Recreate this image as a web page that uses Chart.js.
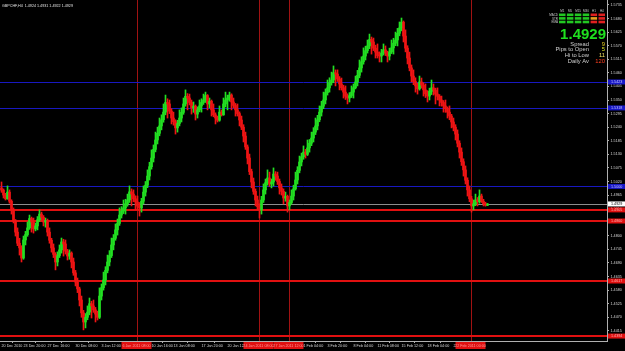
<!DOCTYPE html>
<html><head><meta charset="utf-8">
<script src="https://cdn.jsdelivr.net/npm/chart.js@4.4.0/dist/chart.umd.min.js"></script>
<style>html,body{margin:0;padding:0;background:#000;overflow:hidden}canvas{display:block}</style>
</head><body>
<canvas id="c" width="625" height="351"></canvas>
<script>
const symbolTitle = 'GBPCHF,H4  1.4924 1.4931 1.4922 1.4929';
const firstOpen = 1.4994;
const closes = [
1.4985,1.4965,1.4950,1.4977,1.4940,1.4905,1.4860,1.4815,1.4770,1.4751,
1.4710,1.4783,1.4805,1.4832,1.4870,1.4856,1.4828,1.4840,1.4865,1.4888,
1.4875,1.4856,1.4862,1.4815,1.4782,1.4751,1.4725,1.4694,1.4720,1.4743,
1.4775,1.4767,1.4738,1.4718,1.4730,1.4694,1.4650,1.4613,1.4585,1.4540,
1.4488,1.4451,1.4470,1.4491,1.4525,1.4516,1.4500,1.4483,1.4470,1.4556,
1.4590,1.4621,1.4660,1.4694,1.4720,1.4763,1.4790,1.4824,1.4850,1.4884,
1.4900,1.4913,1.4930,1.4945,1.4978,1.4969,1.4950,1.4937,1.4920,1.4913,
1.4940,1.4977,1.5005,1.5042,1.5080,1.5115,1.5150,1.5188,1.5215,1.5245,
1.5270,1.5301,1.5340,1.5334,1.5305,1.5277,1.5262,1.5237,1.5255,1.5277,
1.5300,1.5334,1.5365,1.5358,1.5340,1.5318,1.5325,1.5293,1.5310,1.5326,
1.5340,1.5350,1.5368,1.5334,1.5345,1.5310,1.5290,1.5277,1.5268,1.5301,
1.5290,1.5334,1.5350,1.5358,1.5370,1.5342,1.5328,1.5310,1.5295,1.5269,
1.5240,1.5204,1.5160,1.5115,1.5060,1.5018,1.4980,1.4945,1.4918,1.4905,
1.4945,1.4986,1.5015,1.5034,1.5010,1.5018,1.5050,1.5042,1.5020,1.4994,
1.4980,1.4953,1.4960,1.4921,1.4935,1.4961,1.4990,1.5026,1.5065,1.5099,
1.5120,1.5139,1.5130,1.5156,1.5175,1.5196,1.5220,1.5245,1.5270,1.5301,
1.5325,1.5350,1.5380,1.5399,1.5420,1.5431,1.5460,1.5455,1.5435,1.5415,
1.5400,1.5382,1.5365,1.5358,1.5368,1.5382,1.5400,1.5423,1.5450,1.5480,
1.5505,1.5528,1.5550,1.5569,1.5595,1.5585,1.5560,1.5544,1.5530,1.5528,
1.5540,1.5553,1.5540,1.5528,1.5545,1.5561,1.5580,1.5593,1.5620,1.5642,
1.5665,1.5609,1.5560,1.5520,1.5480,1.5447,1.5425,1.5407,1.5395,1.5423,
1.5410,1.5391,1.5375,1.5366,1.5385,1.5399,1.5390,1.5374,1.5365,1.5350,
1.5340,1.5326,1.5315,1.5301,1.5285,1.5261,1.5240,1.5212,1.5175,1.5139,
1.5100,1.5067,1.5025,1.4986,1.4950,1.4921,1.4930,1.4945,1.4938,1.4961,
1.4940,1.4930,1.4924,1.4929];
const highs = [
1.5018,1.4990,1.4972,1.5002,1.4986,1.4946,1.4913,1.4866,1.4832,1.4790,
1.4760,1.4799,1.4818,1.4856,1.4884,1.4876,1.4872,1.4852,1.4878,1.4905,
1.4896,1.4882,1.4872,1.4868,1.4832,1.4790,1.4767,1.4732,1.4735,1.4763,
1.4791,1.4786,1.4783,1.4745,1.4743,1.4735,1.4710,1.4660,1.4629,1.4592,
1.4556,1.4498,1.4485,1.4516,1.4548,1.4535,1.4540,1.4510,1.4495,1.4589,
1.4605,1.4653,1.4675,1.4722,1.4740,1.4791,1.4805,1.4848,1.4868,1.4913,
1.4918,1.4945,1.4948,1.4969,1.5002,1.4990,1.4986,1.4962,1.4961,1.4935,
1.4952,1.5002,1.5020,1.5067,1.5098,1.5148,1.5168,1.5220,1.5240,1.5277,
1.5290,1.5334,1.5370,1.5355,1.5350,1.5315,1.5301,1.5270,1.5268,1.5310,
1.5318,1.5358,1.5391,1.5376,1.5374,1.5350,1.5342,1.5330,1.5322,1.5350,
1.5355,1.5374,1.5382,1.5372,1.5358,1.5350,1.5334,1.5298,1.5285,1.5326,
1.5310,1.5358,1.5382,1.5370,1.5382,1.5375,1.5358,1.5336,1.5334,1.5302,
1.5285,1.5250,1.5220,1.5168,1.5131,1.5070,1.5034,1.4990,1.4961,1.4930,
1.4960,1.5010,1.5030,1.5067,1.5058,1.5030,1.5075,1.5060,1.5058,1.5030,
1.5010,1.4990,1.4977,1.4965,1.4945,1.4986,1.5005,1.5058,1.5080,1.5123,
1.5135,1.5164,1.5150,1.5188,1.5190,1.5220,1.5238,1.5277,1.5288,1.5326,
1.5345,1.5382,1.5395,1.5431,1.5440,1.5463,1.5488,1.5472,1.5472,1.5445,
1.5439,1.5410,1.5407,1.5375,1.5380,1.5407,1.5415,1.5447,1.5470,1.5512,
1.5525,1.5561,1.5568,1.5593,1.5617,1.5605,1.5601,1.5572,1.5577,1.5545,
1.5555,1.5577,1.5569,1.5548,1.5560,1.5593,1.5600,1.5625,1.5640,1.5666,
1.5682,1.5670,1.5634,1.5570,1.5544,1.5492,1.5472,1.5440,1.5418,1.5447,
1.5439,1.5420,1.5415,1.5388,1.5398,1.5431,1.5415,1.5398,1.5399,1.5372,
1.5366,1.5348,1.5350,1.5322,1.5326,1.5292,1.5277,1.5250,1.5229,1.5185,
1.5156,1.5112,1.5083,1.5035,1.5002,1.4960,1.4945,1.4969,1.4955,1.4986,
1.4969,1.4948,1.4936,1.4931];
const lows = [
1.4976,1.4953,1.4945,1.4948,1.4932,1.4888,1.4852,1.4799,1.4760,1.4722,
1.4694,1.4705,1.4763,1.4798,1.4826,1.4815,1.4811,1.4820,1.4824,1.4858,
1.4860,1.4840,1.4835,1.4799,1.4770,1.4734,1.4712,1.4662,1.4678,1.4712,
1.4730,1.4718,1.4726,1.4702,1.4705,1.4670,1.4640,1.4597,1.4570,1.4516,
1.4470,1.4419,1.4427,1.4460,1.4480,1.4467,1.4490,1.4451,1.4459,1.4465,
1.4540,1.4580,1.4601,1.4650,1.4678,1.4712,1.4743,1.4782,1.4803,1.4842,
1.4872,1.4890,1.4888,1.4920,1.4935,1.4921,1.4938,1.4905,1.4905,1.4880,
1.4896,1.4930,1.4961,1.4995,1.5026,1.5070,1.5099,1.5140,1.5172,1.5205,
1.5229,1.5260,1.5290,1.5277,1.5295,1.5253,1.5248,1.5212,1.5220,1.5245,
1.5261,1.5292,1.5325,1.5310,1.5330,1.5293,1.5300,1.5269,1.5277,1.5302,
1.5301,1.5332,1.5340,1.5310,1.5318,1.5285,1.5282,1.5253,1.5261,1.5264,
1.5285,1.5288,1.5322,1.5310,1.5345,1.5310,1.5318,1.5285,1.5285,1.5245,
1.5230,1.5180,1.5150,1.5091,1.5048,1.4994,1.4968,1.4921,1.4905,1.4872,
1.4888,1.4935,1.4969,1.5005,1.5000,1.4994,1.5002,1.5025,1.5008,1.4969,
1.4965,1.4929,1.4940,1.4896,1.4905,1.4928,1.4945,1.4985,1.5010,1.5055,
1.5083,1.5110,1.5115,1.5125,1.5139,1.5165,1.5180,1.5210,1.5229,1.5262,
1.5285,1.5315,1.5334,1.5370,1.5382,1.5410,1.5420,1.5407,1.5425,1.5391,
1.5390,1.5358,1.5352,1.5334,1.5342,1.5360,1.5358,1.5395,1.5407,1.5440,
1.5463,1.5495,1.5512,1.5540,1.5558,1.5536,1.5550,1.5520,1.5520,1.5504,
1.5504,1.5532,1.5530,1.5504,1.5512,1.5538,1.5536,1.5570,1.5569,1.5610,
1.5630,1.5585,1.5545,1.5496,1.5468,1.5423,1.5412,1.5382,1.5374,1.5390,
1.5398,1.5366,1.5360,1.5342,1.5350,1.5372,1.5370,1.5334,1.5350,1.5326,
1.5325,1.5301,1.5300,1.5277,1.5270,1.5237,1.5225,1.5188,1.5160,1.5115,
1.5085,1.5042,1.5010,1.4961,1.4938,1.4896,1.4905,1.4922,1.4921,1.4932,
1.4935,1.4921,1.4920,1.4922];
const xTickBars = [0,11,23,37,50,75,86,100,113,151,163,176,188,200,213,226];
const xTickLabels = ['20 Dec 2010','23 Dec 20:00','27 Dec 16:00','30 Dec 08:00','3 Jan 12:00',
'10 Jan 16:00','13 Jan 08:00','17 Jan 20:00','20 Jan 12:00','1 Feb 04:00','3 Feb 20:00',
'8 Feb 04:00','11 Feb 08:00','15 Feb 12:00','18 Feb 04:00','22 Feb 16:00'];
const yTickValues = [1.5735,1.5680,1.5625,1.5570,1.5515,1.5460,1.5405,1.5350,1.5295,1.5240,
1.5185,1.5130,1.5075,1.5020,1.4965,1.4910,1.4855,1.4800,1.4745,1.4690,1.4635,1.4580,1.4525,1.4470,1.4415];
const blueLevels = [1.5423,1.5318,1.5000];
const redLevels = [1.4905,1.4860,1.4617,1.4394];
const currentPrice = 1.4929;
const vLineBars = [68,129,144,235];
const vLineLabels = ['6 Jan 2011 08:00','24 Jan 2011 08:00','27 Jan 2011 12:00','22 Feb 2011 00:00'];
const tfLabels = ['M1','M5','M15','M30','H1','H4'];
const indLabels = ['MACD','STR','EMA'];
const signalGrid = [['up','up','up','up','dn','dn'],['up','up','up','up','mid','dn'],['up','up','up','up','dn','dn']];
const infoLabels = ['Spread','Pips to Open','Hi to Low','Daily Av'];
const infoValues = ['9','5','11','120'];
const infoValueColors = ['#e8d020','#d8e020','#f0e060','#ff4020'];

const UP = '#22e022', DN = '#f01414';
const opens = [firstOpen].concat(closes.slice(0, -1));
const barColors = closes.map((c, i) => c >= opens[i] ? UP : DN);
const wickData = closes.map((c, i) => ({x: i, y: [lows[i], highs[i]]}));
const bodyData = closes.map((c, i) => ({x: i, y: [opens[i], c]}));
const FONT = '"Liberation Sans", Arial, sans-serif';
const TICK = 3.7;

const overlay = {
  id: 'mt4',
  beforeDraw(chart) {
    const c = chart.ctx;
    c.save(); c.fillStyle = '#000'; c.fillRect(0, 0, chart.width, chart.height); c.restore();
  },
  beforeDatasetsDraw(chart) {
    const c = chart.ctx, a = chart.chartArea, y = chart.scales.y, x = chart.scales.x;
    c.save();
    c.beginPath(); c.rect(a.left, a.top, a.right - a.left, a.bottom - a.top); c.clip();
    c.lineWidth = 1;
    c.strokeStyle = '#a01212';
    vLineBars.forEach(b => { const px = Math.floor(x.getPixelForValue(b)) + 0.5; c.beginPath(); c.moveTo(px, a.top); c.lineTo(px, a.bottom); c.stroke(); });
    c.strokeStyle = '#1818c0';
    blueLevels.forEach(v => { const py = Math.round(y.getPixelForValue(v)) + 0.5; c.beginPath(); c.moveTo(a.left, py); c.lineTo(a.right, py); c.stroke(); });
    c.strokeStyle = '#8c8c8c';
    { const py = Math.round(y.getPixelForValue(currentPrice)) + 0.5; c.beginPath(); c.moveTo(a.left, py); c.lineTo(a.right, py); c.stroke(); }
    c.strokeStyle = '#e01010'; c.lineWidth = 2;
    redLevels.forEach(v => { const py = Math.round(y.getPixelForValue(v)); c.beginPath(); c.moveTo(a.left, py); c.lineTo(a.right, py); c.stroke(); });
    c.restore();
  },
  afterDraw(chart) {
    const c = chart.ctx, a = chart.chartArea, y = chart.scales.y, x = chart.scales.x;
    c.save();
    c.textBaseline = 'middle';
    c.font = TICK + 'px ' + FONT;
    const box = (v, bg, fg) => {
      const py = y.getPixelForValue(v);
      c.fillStyle = bg; c.fillRect(a.right + 1, py - 2.5, chart.width - a.right - 1, 5);
      c.fillStyle = fg; c.textAlign = 'left'; c.fillText(v.toFixed(4), a.right + 4, py + 0.3);
    };
    blueLevels.forEach(v => box(v, '#1818c8', '#c8c8ff'));
    redLevels.forEach(v => box(v, '#e01010', '#ffb0b0'));
    box(currentPrice, '#ffffff', '#000000');
    vLineBars.forEach((b, i) => {
      const px = x.getPixelForValue(b);
      c.fillStyle = '#e01010'; c.fillRect(px - 16, a.bottom + 1, 30, 7);
      c.fillStyle = '#ff9a9a'; c.textAlign = 'center'; c.fillText(vLineLabels[i], px - 1, a.bottom + 4.8);
    });
    c.textBaseline = 'alphabetic'; c.textAlign = 'left';
    c.fillStyle = '#e0e0e0'; c.font = TICK + 'px ' + FONT;
    c.fillText(symbolTitle, 2, 6.5);
    const gx = 559, cw = 7.9;
    c.font = '3px ' + FONT; c.fillStyle = '#c8c8c8'; c.textAlign = 'center';
    tfLabels.forEach((t, j) => c.fillText(t, gx + cw * j + 3.3, 12));
    c.textAlign = 'right';
    indLabels.forEach((t, r) => c.fillText(t, gx - 1, 16 + r * 3.6));
    signalGrid.forEach((row, r) => row.forEach((s, j) => {
      c.fillStyle = s === 'up' ? '#22c822' : (s === 'mid' ? '#e8a020' : '#e02020');
      c.fillRect(gx + cw * j, 13.5 + r * 3.6, 6.5, 2.6);
    }));
    c.font = 'bold 15px ' + FONT; c.fillStyle = '#1fe01f'; c.textAlign = 'right';
    c.fillText(currentPrice.toFixed(4), 606, 38.5);
    c.font = '5.8px ' + FONT;
    infoLabels.forEach((t, i) => {
      c.fillStyle = '#d0d0d0'; c.fillText(t, 589, 45.5 + i * 5.9);
      c.fillStyle = infoValueColors[i]; c.fillText(infoValues[i], 605, 45.5 + i * 5.9);
    });
    c.restore();
  }
};

new Chart(document.getElementById('c'), {
  type: 'bar',
  data: { datasets: [
    { label: 'wick', data: wickData, backgroundColor: barColors, borderWidth: 0, barThickness: 1, grouped: false, order: 2 },
    { label: 'body', data: bodyData, backgroundColor: barColors, borderWidth: 0, barThickness: 2, minBarLength: 1, grouped: false, order: 1 }
  ]},
  options: {
    responsive: false, animation: false, devicePixelRatio: 1,
    layout: { padding: 0 },
    plugins: { legend: { display: false }, tooltip: { enabled: false }, title: { display: false } },
    scales: {
      x: {
        type: 'linear', offset: false, min: -0.75, max: 302.75,
        grid: { display: true, drawOnChartArea: false, drawTicks: true, tickLength: 2, color: '#b0b0b0' },
        border: { display: true, color: '#b0b0b0' },
        afterBuildTicks: s => { s.ticks = xTickBars.map(v => ({ value: v })); },
        afterFit: s => { s.height = 10; s.paddingLeft = 0; s.paddingRight = 0; },
        ticks: { autoSkip: false, maxRotation: 0, align: 'start', padding: 1, color: '#d8d8d8', font: { size: TICK, family: FONT },
          callback: (v) => { const k = xTickBars.indexOf(v); return k >= 0 ? xTickLabels[k] : ''; } }
      },
      y: {
        position: 'right', min: 1.4374, max: 1.5755, beginAtZero: false,
        grid: { display: true, drawOnChartArea: false, drawTicks: true, tickLength: 2, color: '#b0b0b0' },
        border: { display: true, color: '#b0b0b0' },
        afterBuildTicks: s => { s.ticks = yTickValues.map(v => ({ value: v })); },
        afterFit: s => { s.width = 18; s.paddingTop = 0; s.paddingBottom = 0; },
        ticks: { padding: 1.5, color: '#d8d8d8', font: { size: TICK, family: FONT }, callback: v => Number(v).toFixed(4) }
      }
    }
  },
  plugins: [overlay]
});
</script>
</body></html>
